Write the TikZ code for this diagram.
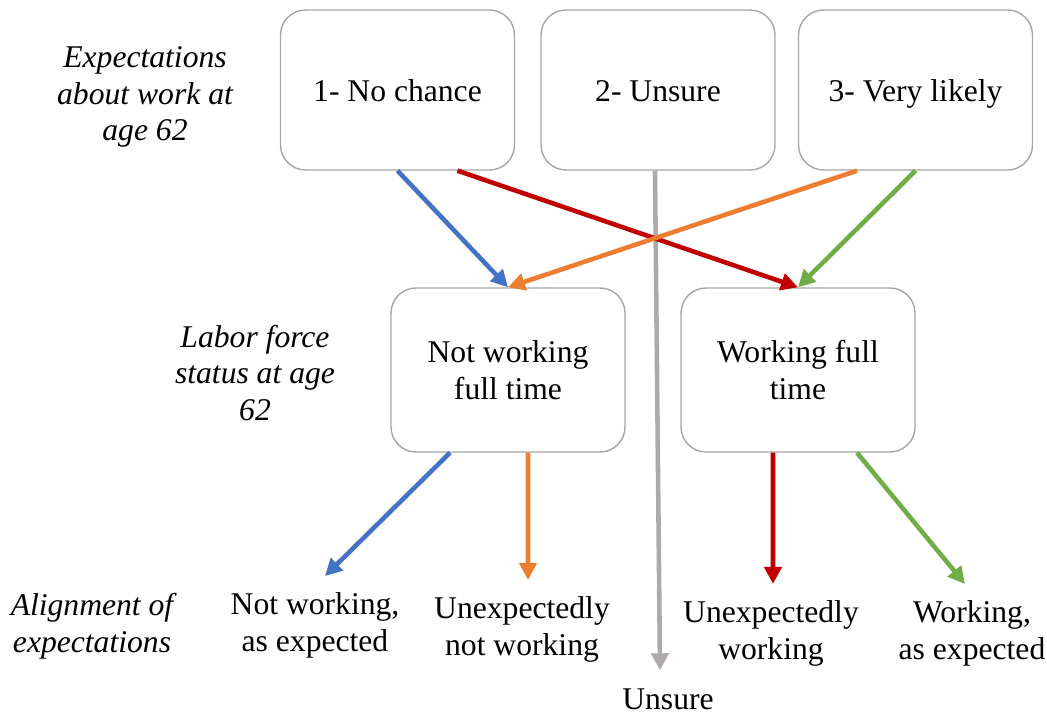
\documentclass[tikz,border=0pt]{standalone}
\usepackage{fontspec}
\setmainfont{Liberation Serif}
\usetikzlibrary{arrows.meta}
\definecolor{arrblue}{HTML}{4472C4}
\definecolor{arrred}{HTML}{C00000}
\definecolor{arrorange}{HTML}{ED7D31}
\definecolor{arrgreen}{HTML}{70AD47}
\definecolor{arrgray}{HTML}{AEAAAA}
\definecolor{boxline}{HTML}{A6A6A6}
\begin{document}
\begin{tikzpicture}[x=0.02cm,y=-0.02cm,
    box/.style={draw=boxline,line width=0.8pt,rounded corners=0.5cm,minimum width=4.68cm,
        align=center,font=\fontsize{18}{21}\selectfont},
    topbox/.style={box,minimum height=3.2cm,text height=0.55cm,text depth=0.1cm},
    lbl/.style={align=center,font=\fontsize{18}{21}\selectfont},
    side/.style={align=center,font=\fontsize{18}{21}\selectfont\itshape},
    flow/.style={line width=2.6pt,-{Triangle[length=0.34cm,width=0.34cm]}}]
    \useasboundingbox (0,0) rectangle (1047,716);
    % expectations
    \node[topbox] (no) at (397.5,90) {1- No chance};
    \node[topbox] (unsure) at (658,90) {2- Unsure};
    \node[topbox] (likely) at (915.5,90) {3- Very likely};
    % status at 62
    \node[box,minimum height=3.28cm] (notfull) at (508,370) {Not working\\full time};
    \node[box,minimum height=3.28cm] (full) at (798,370) {Working full\\time};
    % outcomes
    \node[lbl] (notexp) at (315,625) {Not working,\\as expected};
    \node[lbl] (unexpnot) at (522,629) {Unexpectedly\\not working};
    \node[lbl] (unexpw) at (771,633) {Unexpectedly\\working};
    \node[lbl] (wexp) at (972,633) {Working,\\as expected};
    \node[lbl] (unsureout) at (668,699) {Unsure};
    % row labels
    \node[side] (rowa) at (145,97) {Expectations\\about work at\\age 62};
    \node[side] (rowb) at (255,373) {Labor force\\status at age\\62};
    \node[side] (rowc) at (92,626) {Alignment of\\expectations};
    %\draw[loosely dotted] (0,0) grid[step=50] (1047,716);

    \draw[flow,arrgray] ([xshift=-0.06cm]unsure.south) -- ([xshift=-0.16cm,yshift=0.24cm]unsureout.north);
    \draw[flow,arrblue] (no.south) -- (notfull.north);
    \draw[flow,arrred] ([xshift=1.2cm]no.south) -- (full.north);
    \draw[flow,arrorange] ([xshift=-1.17cm]likely.south) -- (notfull.north);
    \draw[flow,arrgreen] (likely.south) -- (full.north);

    \draw[flow,arrblue] ([xshift=-1.16cm]notfull.south) -- ([xshift=0.2cm,yshift=0.2cm]notexp.north);
    \draw[flow,arrorange] ([xshift=0.4cm]notfull.south) -- ([xshift=0.12cm,yshift=0.2cm]unexpnot.north);
    \draw[flow,arrred] ([xshift=-0.5cm]full.south) -- ([xshift=0.04cm,yshift=0.2cm]unexpw.north);
    \draw[flow,arrgreen] ([xshift=1.18cm]full.south) -- ([xshift=-0.14cm,yshift=0.2cm]wexp.north);
\end{tikzpicture}
\end{document}
